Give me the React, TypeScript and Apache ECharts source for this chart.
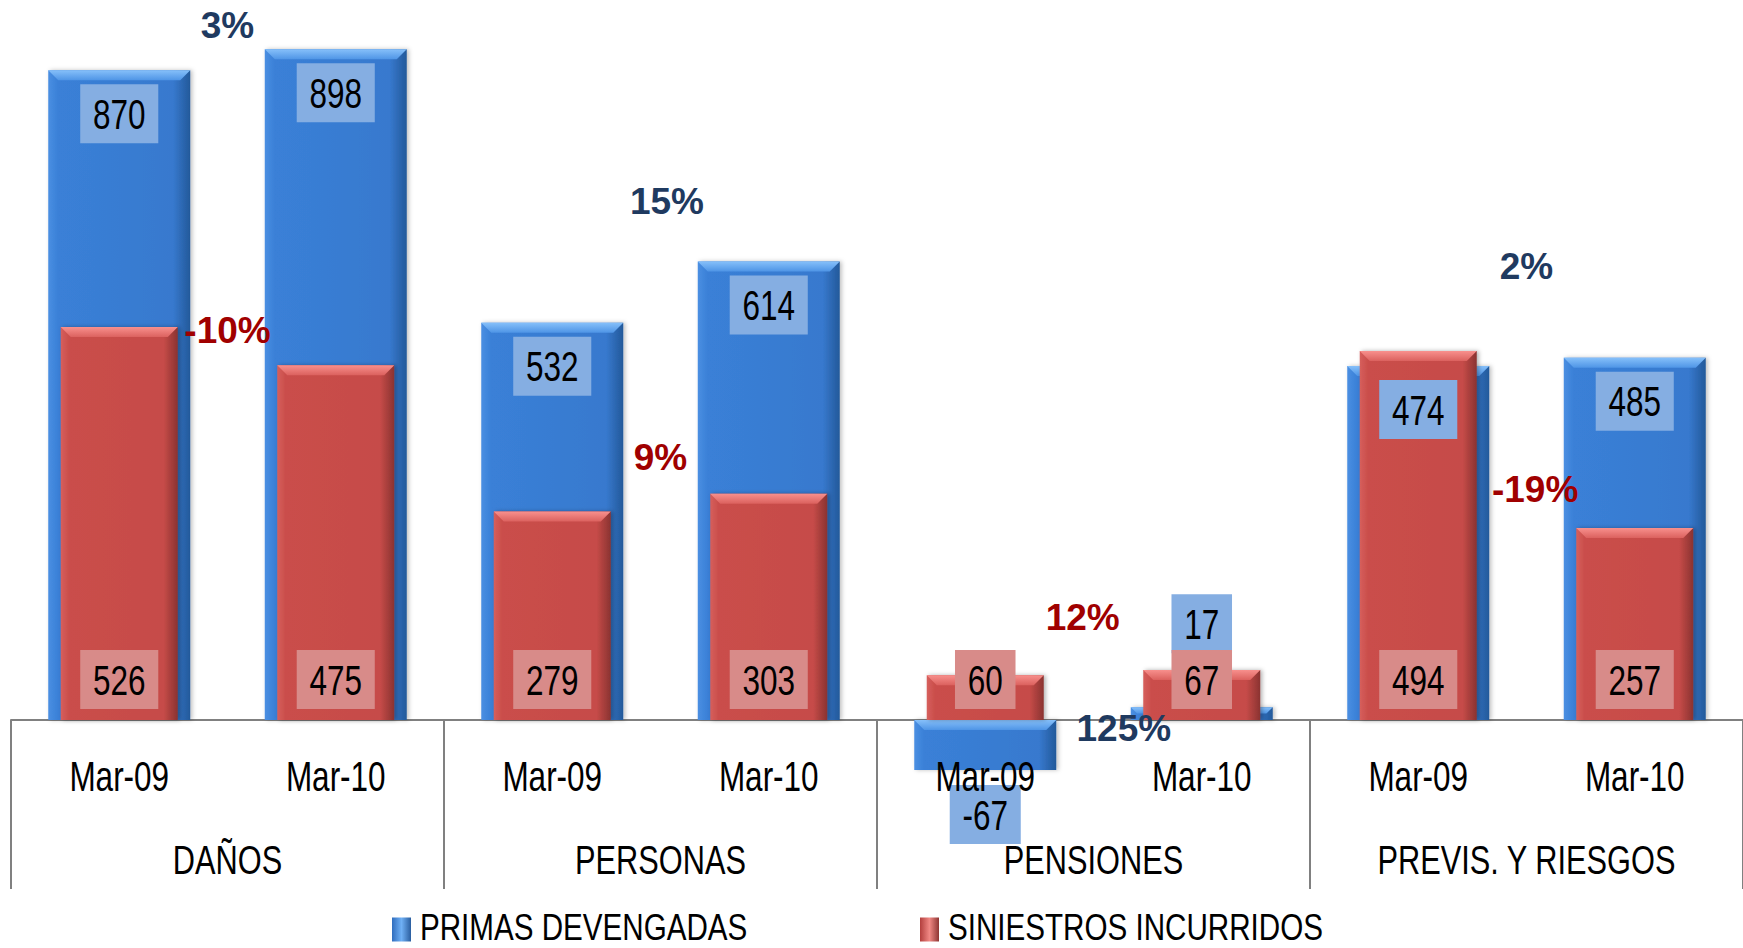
import React, { useEffect, useRef } from "react";
import * as echarts from "echarts";

const periods = ["Mar-09", "Mar-10", "Mar-09", "Mar-10", "Mar-09", "Mar-10", "Mar-09", "Mar-10"];
const groups = ["DAÑOS", "PERSONAS", "PENSIONES", "PREVIS. Y RIESGOS"];
const primas = [870, 898, 532, 614, -67, 17, 474, 485];
const siniestros = [526, 475, 279, 303, 60, 67, 494, 257];
const changeTexts = ["3%", "-10%", "15%", "9%", "125%", "12%", "2%", "-19%"];
const changeKinds = ["primas", "siniestros", "primas", "siniestros", "primas", "siniestros", "primas", "siniestros"];
const changeX = [1.0, 1.0, 3.03, 3.0, 5.14, 4.95, 7.0, 7.04];
const changeY = [930, 521, 694, 352, -12, 137, 607, 309];
const legendNames = ["PRIMAS DEVENGADAS", "SINIESTROS INCURRIDOS"];

const FONT = "'Liberation Sans', Arial, sans-serif";
const SQUEEZE = 0.75;
const BLUE_W = 142;
const RED_W = 117;

export default function App() {
  const ref = useRef<HTMLDivElement>(null);
  useEffect(() => {
    document.body.style.margin = "0";
    document.body.style.overflow = "hidden";
    const chart = echarts.init(ref.current!, null, { renderer: "svg" });
    const blueGrad = new echarts.graphic.LinearGradient(0, 0, 1, 0, [
      { offset: 0, color: "#4A8FE2" },
      { offset: 0.07, color: "#3A80D7" },
      { offset: 0.88, color: "#3779CE" },
      { offset: 1, color: "#23599A" },
    ]);
    const redGrad = new echarts.graphic.LinearGradient(0, 0, 1, 0, [
      { offset: 0, color: "#D65F5C" },
      { offset: 0.07, color: "#CA4E4B" },
      { offset: 0.88, color: "#C64B48" },
      { offset: 1, color: "#8A3331" },
    ]);

    const bevel = (width: number, light: string, mid: string) => (params: any, api: any) => {
      const i = api.value(0);
      const v = api.value(1);
      const base = api.coord([i, 0]);
      const end = api.coord([i, v]);
      const top = Math.min(base[1], end[1]);
      const h = Math.abs(base[1] - end[1]);
      const d = Math.min(10, h / 2);
      const cx = base[0];
      const l = cx - width / 2;
      const r = cx + width / 2;
      return {
        type: "polygon",
        shape: { points: [[l, top], [r, top], [r - d, top + d], [l + d, top + d]] },
        style: {
          fill: new echarts.graphic.LinearGradient(0, 0, 0, 1, [
            { offset: 0, color: light },
            { offset: 1, color: mid },
          ]),
        },
      };
    };

    const valueText = (text: string, x: number, y: number, vAlign: string, bg: string) => ({
      type: "text",
      x,
      y,
      scaleX: SQUEEZE,
      style: {
        text,
        fontFamily: FONT,
        fontSize: 42,
        lineHeight: 40,
        fill: "#000",
        align: "center",
        verticalAlign: vAlign,
        backgroundColor: bg,
        padding: [10, 17, 9, 17],
      },
    });

    const idxData = (vals: number[]) => vals.map((v, i) => [i, v]);

    chart.setOption({
      animation: false,
      grid: { left: 11, right: 0, top: 0, bottom: 116, containLabel: false, outerBoundsMode: "none" },
      xAxis: [
        {
          type: "category",
          data: periods,
          position: "bottom",
          axisLine: { show: true, onZero: true, onZeroAxisIndex: 0, lineStyle: { color: "#808080", width: 2 } },
          axisTick: { show: false },
          axisLabel: { show: false },
        },
        {
          type: "category",
          data: groups,
          position: "bottom",
          axisLine: { show: false, onZero: true, onZeroAxisIndex: 0 },
          axisTick: { show: true, length: 169, lineStyle: { color: "#808080", width: 2 } },
          axisLabel: { show: false },
        },
        { type: "category", data: periods, show: false, axisLine: { onZero: false } },
        { type: "value", min: 0, max: 8, show: false, axisLine: { onZero: false } },
      ],
      yAxis: {
        type: "value",
        min: -150,
        max: 964,
        show: false,
        splitLine: { show: false },
      },
      series: [
        {
          name: legendNames[0],
          type: "bar",
          xAxisIndex: 0,
          barWidth: BLUE_W,
          data: primas,
          itemStyle: {
            color: blueGrad,
            shadowColor: "rgba(0,0,0,0.25)",
            shadowBlur: 4,
            shadowOffsetX: 2,
          },
          z: 2,
        },
        {
          name: "blueBevel",
          type: "custom",
          xAxisIndex: 0,
          data: idxData(primas),
          renderItem: bevel(BLUE_W, "#86C0FA", "#4F95E6"),
          clip: false,
          silent: true,
          z: 3,
        },
        {
          name: legendNames[1],
          type: "bar",
          xAxisIndex: 2,
          barWidth: RED_W,
          data: siniestros,
          itemStyle: {
            color: redGrad,
            shadowColor: "rgba(0,0,0,0.3)",
            shadowBlur: 4,
            shadowOffsetX: 2,
          },
          z: 4,
        },
        {
          name: "redBevel",
          type: "custom",
          xAxisIndex: 2,
          data: idxData(siniestros),
          renderItem: bevel(RED_W, "#F8908D", "#DB615E"),
          clip: false,
          silent: true,
          z: 5,
        },
        {
          name: "primasLabels",
          type: "custom",
          xAxisIndex: 0,
          data: idxData(primas),
          clip: false,
          silent: true,
          z: 6,
          renderItem: (params: any, api: any) => {
            const i = api.value(0);
            const v = api.value(1);
            const p = api.coord([i, v]);
            const text = String(primas[params.dataIndex]);
            if (v < 0) return valueText(text, p[0], p[1] + 15, "top", "#85AEE2");
            if (v < 40) return valueText(text, p[0], p[1] - 54, "bottom", "#85AEE2");
            return valueText(text, p[0], p[1] + 14, "top", "#85AEE2");
          },
        },
        {
          name: "siniestrosLabels",
          type: "custom",
          xAxisIndex: 2,
          data: idxData(siniestros),
          clip: false,
          silent: true,
          z: 6,
          renderItem: (params: any, api: any) => {
            const i = api.value(0);
            const p = api.coord([i, 0]);
            return valueText(String(siniestros[params.dataIndex]), p[0], p[1] - 11, "bottom", "#D88B89");
          },
        },
        {
          name: "periodLabels",
          type: "custom",
          xAxisIndex: 0,
          data: periods.map((_, i) => [i, 0]),
          clip: false,
          silent: true,
          z: 6,
          renderItem: (params: any, api: any) => {
            const p = api.coord([api.value(0), 0]);
            return {
              type: "text",
              x: p[0],
              y: p[1] + 56,
              scaleX: SQUEEZE,
              style: { text: periods[params.dataIndex], fontFamily: FONT, fontSize: 42, fill: "#000", align: "center", verticalAlign: "middle" },
            };
          },
        },
        {
          name: "groupLabels",
          type: "custom",
          xAxisIndex: 1,
          data: groups.map((_, i) => [i, 0]),
          clip: false,
          silent: true,
          z: 6,
          renderItem: (params: any, api: any) => {
            const p = api.coord([api.value(0), 0]);
            return {
              type: "text",
              x: p[0],
              y: p[1] + 140,
              scaleX: SQUEEZE,
              style: { text: groups[params.dataIndex], fontFamily: FONT, fontSize: 41, fill: "#000", align: "center", verticalAlign: "middle" },
            };
          },
        },
        {
          name: "changes",
          type: "custom",
          xAxisIndex: 3,
          data: changeX.map((x, i) => [x, changeY[i]]),
          clip: false,
          silent: true,
          z: 7,
          renderItem: (params: any, api: any) => {
            const p = api.coord([api.value(0), api.value(1)]);
            const i = params.dataIndex;
            return {
              type: "text",
              x: p[0],
              y: p[1],
              style: {
                text: changeTexts[i],
                fontFamily: FONT,
                fontWeight: "bold",
                fontSize: 37,
                fill: changeKinds[i] === "primas" ? "#1F3A60" : "#A00000",
                align: "center",
                verticalAlign: "middle",
              },
            };
          },
        },
      ],
      graphic: [
        {
          type: "group",
          left: 392,
          top: 909,
          children: [
            {
              type: "rect",
              shape: { x: 0, y: 10, width: 19, height: 24 },
              style: {
                fill: new echarts.graphic.LinearGradient(0, 0, 1, 0, [
                  { offset: 0, color: "#2F6DBE" },
                  { offset: 0.5, color: "#6FB0F5" },
                  { offset: 1, color: "#2A5E9F" },
                ]),
              },
            },
            {
              type: "text",
              x: 28,
              y: 20,
              scaleX: SQUEEZE + 0.05,
              style: { text: legendNames[0], fontFamily: FONT, fontSize: 37, fill: "#000", verticalAlign: "middle" },
            },
            {
              type: "rect",
              shape: { x: 528, y: 10, width: 19, height: 24 },
              style: {
                fill: new echarts.graphic.LinearGradient(0, 0, 1, 0, [
                  { offset: 0, color: "#B33F3D" },
                  { offset: 0.5, color: "#F08884" },
                  { offset: 1, color: "#8E3533" },
                ]),
              },
            },
            {
              type: "text",
              x: 556,
              y: 20,
              scaleX: SQUEEZE + 0.05,
              style: { text: legendNames[1], fontFamily: FONT, fontSize: 37, fill: "#000", verticalAlign: "middle" },
            },
          ],
        },
      ],
    });
    return () => chart.dispose();
  }, []);
  return <div ref={ref} style={{ width: 1743, height: 948 }} />;
}
